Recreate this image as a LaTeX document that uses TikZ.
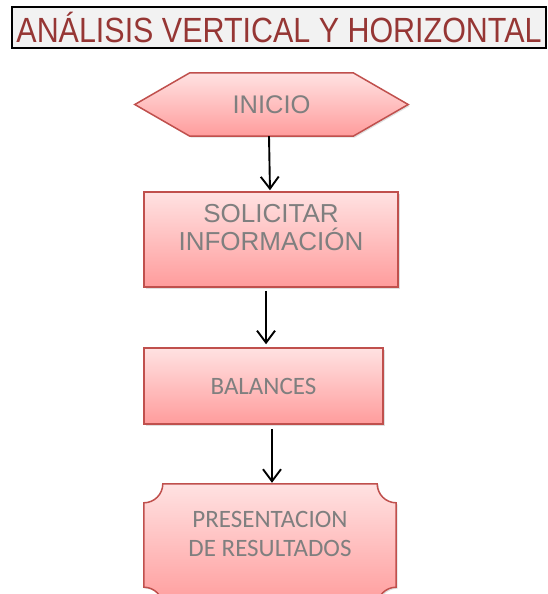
\documentclass[tikz,border=0pt]{standalone}
\usepackage{fontspec}
\setmainfont{Liberation Sans}
\newfontfamily\calfont{Carlito}
\newfontfamily\titlefont[FakeStretch=0.87]{Liberation Sans}
\usepackage{tikz}
\usetikzlibrary{positioning, arrows.meta, calc, backgrounds, shadows}

\definecolor{boxline}{HTML}{C0504D}
\definecolor{boxtop}{HTML}{FFE2E2}
\definecolor{boxbottom}{HTML}{FF9C9C}
\definecolor{boxtext}{HTML}{7F7F7F}
\definecolor{titletext}{HTML}{963634}

\begin{document}
\begin{tikzpicture}[
  x=1pt, y=-1pt,
  >={Straight Barb[length=12pt, width=18pt]},
  every node/.style={text=boxtext, align=center},
  boxfill/.style={draw=boxline, line width=1.5pt, top color=boxtop, bottom color=boxbottom,
    drop shadow={shadow xshift=1.5pt, shadow yshift=-1.5pt, opacity=0.25}},
  flowbox/.style={boxfill, inner sep=0pt},
  flowarrow/.style={->, line width=1.9pt, shorten >=1pt}
]
\useasboundingbox (0,0) rectangle (548,594);

% Title
\node[draw=black, line width=2pt, fill=black!5, minimum width=534pt, minimum height=41pt, inner sep=0pt,
  text=titletext, font=\titlefont\fontsize{35}{38}\selectfont] (title) at (279,27.5)
  {ANÁLISIS VERTICAL Y HORIZONTAL};

% Start: hexagon
\node[minimum width=163pt, minimum height=63pt, inner sep=0pt, font=\fontsize{25.5}{28}\selectfont]
  (inicio) at (271.5,104.5) {INICIO};
\begin{scope}[on background layer]
  \path[boxfill] (inicio.north west) -- (inicio.north east) -- ($(inicio.east)+(55pt,0)$)
    -- (inicio.south east) -- (inicio.south west) -- ($(inicio.west)+(-55pt,0)$) -- cycle;
\end{scope}

% Request information
\node[flowbox, minimum width=254pt, minimum height=95pt, text depth=24pt,
  font=\fontsize{26}{27.5}\selectfont] (solicitar) at (271,239.5)
  {SOLICITAR\\INFORMACIÓN};

% Balance sheets
\node[flowbox, minimum width=239pt, minimum height=76pt,
  font=\calfont\fontsize{25}{28}\selectfont] (balances) at (263.5,386) {BALANCES};

% Results: plaque
\node[minimum width=252pt, minimum height=122pt, inner sep=0pt, text depth=22pt,
  font=\calfont\fontsize{25}{29.5}\selectfont] (resultados) at (270,545)
  {PRESENTACION\\DE RESULTADOS};
\begin{scope}[on background layer]
  \path[boxfill] ($(resultados.north west)+(19pt,0)$) -- ($(resultados.north east)+(-19pt,0)$)
    arc[start angle=180, end angle=270, radius=19pt]
    -- ($(resultados.south east)+(0,19pt)$)
    arc[start angle=90, end angle=180, radius=19pt]
    -- ($(resultados.south west)+(19pt,0)$)
    arc[start angle=0, end angle=90, radius=19pt]
    -- ($(resultados.north west)+(0,-19pt)$)
    arc[start angle=270, end angle=360, radius=19pt] -- cycle;
\end{scope}

% Connectors
\draw[flowarrow] (inicio.south -| 269,0) -- (solicitar.north -| 270,0);
\draw[flowarrow] ($(solicitar.south)+(-5,3)$) -- ($(balances.north)+(2.5,-2)$);
\draw[flowarrow] ($(balances.south)+(8.5,4)$) -- (resultados.north -| 272,0);
\end{tikzpicture}
\end{document}
